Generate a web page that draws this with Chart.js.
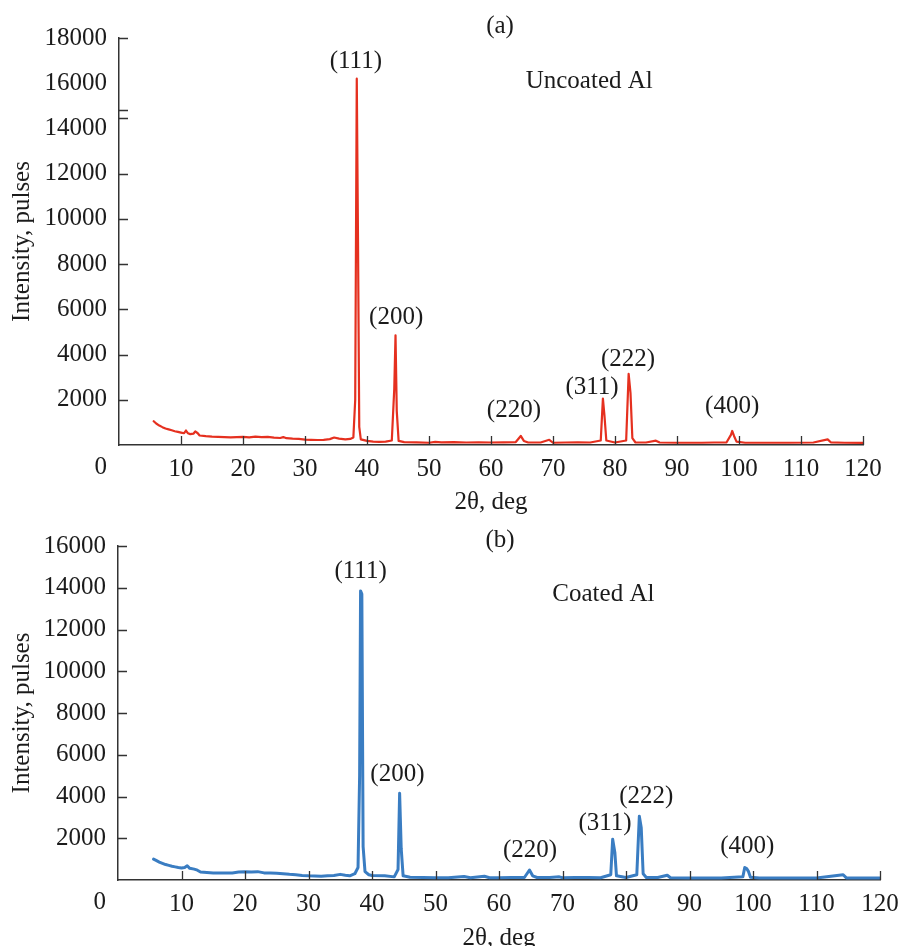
<!DOCTYPE html>
<html>
<head>
<meta charset="utf-8">
<script src="https://cdn.jsdelivr.net/npm/chart.js@4.4.1/dist/chart.umd.min.js"></script>
<style>
  body { margin: 0; background: #fff; }
  #wrap { position: relative; width: 902px; height: 946px; }
  canvas { position: absolute; left: 0; }
  #chartA { top: 0; }
  #chartB { top: 515px; }
</style>
</head>
<body>
<div id="wrap">
  <canvas id="chartA" width="902" height="515"></canvas>
  <canvas id="chartB" width="902" height="431"></canvas>
</div>
<script>
// (a) uncoated Al : 2theta, deg / intensity, pulses
const thetaA = [5.6, 6, 6.5, 7, 7.5, 8, 8.5, 9, 9.5, 10, 10.5, 10.8, 11.1, 11.5, 12, 12.3, 12.7, 13, 14, 15,
  16, 17, 18, 19, 20, 21, 22, 23, 24, 25, 26, 26.5, 27, 28, 29, 30, 31, 32, 33, 34,
  34.7, 35.5, 36.5, 37.3, 37.8, 38.1, 38.35, 38.55, 38.75, 39, 40, 41, 42, 43, 44, 44.4, 44.6, 44.8, 45.1, 46,
  48, 50, 51, 52, 54, 56, 58, 60, 62, 64, 64.8, 65.3, 66, 68, 69.4, 70, 72, 74, 76, 77.7,
  78.05, 78.3, 78.6, 80, 81.8, 82.2, 82.5, 82.8, 83.3, 85, 86.6, 87.2, 90, 92, 94, 96, 98, 98.7, 98.9, 99.2,
  99.6, 101, 104, 108, 112, 114.3, 114.8, 117, 120];
const intensityA = [1050, 950, 860, 790, 730, 690, 650, 610, 580, 550, 520, 640, 520, 480, 500, 600, 520, 420, 390, 370,
  360, 350, 340, 350, 360, 340, 370, 350, 360, 330, 310, 350, 300, 280, 270, 240, 230, 220, 230, 260,
  330, 280, 250, 270, 330, 2000, 16200, 9000, 800, 250, 180, 150, 140, 150, 200, 2500, 4850, 1500, 180, 130,
  120, 100, 140, 120, 130, 110, 120, 110, 120, 130, 400, 180, 110, 110, 230, 100, 110, 120, 110, 200,
  2050, 1300, 200, 110, 200, 3150, 2300, 300, 110, 110, 190, 110, 100, 100, 100, 110, 120, 450, 620, 400,
  150, 100, 100, 100, 110, 250, 120, 100, 90];

// (b) coated Al
const thetaB = [5.6, 6, 6.5, 7, 7.5, 8, 8.5, 9, 9.5, 10, 10.5, 10.9, 11.3, 12, 12.5, 13, 14, 15, 16, 17,
  18, 19, 20, 21, 22, 23, 24, 25, 26, 27, 28, 29, 30, 31, 32, 33, 34, 35, 35.8, 36.5,
  37.3, 37.8, 38.05, 38.2, 38.4, 38.6, 38.9, 39.5, 40, 42, 43.5, 44.1, 44.35, 44.6, 44.9, 46, 48, 50, 52, 54.5,
  55.5, 57.7, 58.5, 60, 62, 64, 64.8, 65.3, 66, 68, 69.5, 70, 72, 74, 76, 77.6, 77.9, 78.25, 78.5, 80,
  81.7, 82.1, 82.4, 82.7, 83.2, 85, 86.5, 87, 90, 95, 98.4, 98.7, 99, 99.3, 99.6, 101, 105, 110, 114.2, 114.7,
  117, 120];
const intensityB = [1000, 940, 860, 800, 740, 700, 660, 630, 600, 580, 600, 680, 560, 520, 470, 380, 360, 340, 330, 330,
  340, 380, 400, 380, 400, 340, 330, 320, 300, 270, 250, 220, 200, 190, 180, 200, 220, 270, 230, 200,
  300, 600, 5000, 13850, 13700, 1600, 400, 250, 220, 200, 150, 500, 4150, 1500, 200, 130, 120, 110, 110, 170,
  110, 180, 110, 110, 120, 120, 480, 200, 120, 120, 150, 110, 120, 120, 110, 250, 1950, 1300, 200, 120,
  250, 3050, 2500, 300, 120, 120, 230, 110, 100, 100, 150, 600, 550, 400, 130, 100, 100, 100, 250, 100,
  100, 100];

const xTicks = [10, 20, 30, 40, 50, 60, 70, 80, 90, 100, 110, 120];
const yTickMarksA = [18000, 14800, 14450, 12000, 10000, 8000, 6000, 4000, 2000];
const yTickMarksB = [16000, 14000, 12000, 10000, 8000, 6000, 4000, 2000];

const peakNames = ['(111)', '(200)', '(220)', '(311)', '(222)', '(400)'];
const labelThetaA = [38.2, 44.7, 63.7, 76.3, 82.1, 98.9];
const labelIntA = [16985, 5630, 1550, 2530, 3770, 1685];
const labelThetaB = [38.2, 44.0, 64.9, 76.7, 83.2, 99.1];
const labelIntB = [14800, 5050, 1400, 2700, 4000, 1590];

const FONT = '"Liberation Serif", "Times New Roman", serif';
const INK = '#1b1b1b';

const decor = {
  id: 'decor',
  afterDraw(chart, args, o) {
    const ctx = chart.ctx;
    const xs = chart.scales.x, ys = chart.scales.y;
    const area = chart.chartArea;
    ctx.save();
    // inward tick marks
    ctx.strokeStyle = '#333';
    ctx.lineWidth = 1.3;
    ctx.beginPath();
    o.xTicks.forEach(v => {
      const px = Math.round(xs.getPixelForValue(v)) + 0.5;
      ctx.moveTo(px, area.bottom);
      ctx.lineTo(px, area.bottom - 9);
    });
    o.yTicks.forEach(v => {
      const py = Math.round(ys.getPixelForValue(v)) + 0.5;
      ctx.moveTo(area.left, py);
      ctx.lineTo(area.left + 9, py);
    });
    ctx.stroke();

    ctx.fillStyle = INK;
    ctx.font = '25px ' + FONT;
    ctx.textBaseline = 'middle';
    // origin "0"
    ctx.textAlign = 'right';
    ctx.fillText('0', area.left - 12, area.bottom + 22);
    // peak labels
    ctx.textAlign = 'center';
    o.names.forEach((t, i) => {
      ctx.fillText(t, xs.getPixelForValue(o.lx[i]), ys.getPixelForValue(o.ly[i]));
    });
    // sample name
    ctx.textAlign = 'left';
    ctx.fillText(o.sample, xs.getPixelForValue(o.sx), ys.getPixelForValue(o.sy));
    // panel letter
    ctx.textAlign = 'center';
    ctx.fillText(o.panel, 500, o.panelY);
    ctx.restore();
  }
};

function makeChart(id, theta, intensity, color, lineW, yMax, yWidth, xHeight, pad, titleBottom, dec) {
  return new Chart(document.getElementById(id), {
    type: 'line',
    data: {
      datasets: [{
        data: theta.map((t, i) => ({ x: t, y: intensity[i] })),
        borderColor: color,
        borderWidth: lineW,
        borderJoinStyle: 'round',
        borderCapStyle: 'round',
        pointRadius: 0,
        tension: 0,
        fill: false
      }]
    },
    options: {
      responsive: false,
      animation: false,
      events: [],
      layout: { padding: pad },
      plugins: { legend: { display: false }, tooltip: { enabled: false }, decor: dec },
      scales: {
        x: {
          type: 'linear',
          min: 0, max: 120,
          afterFit: s => { s.height = xHeight; s.paddingRight = 0; },
          grid: { display: false, drawTicks: false },
          border: { display: true, color: '#333', width: 1.5 },
          ticks: {
            stepSize: 10, padding: 9, color: INK, maxRotation: 0,
            font: { family: FONT, size: 25 },
            callback: v => (v === 0 ? '' : v)
          },
          title: {
            display: true, text: '2\u03b8, deg', color: INK,
            font: { family: FONT, size: 25 }, padding: { top: 0, bottom: titleBottom }
          }
        },
        y: {
          min: 0, max: yMax,
          afterFit: s => { s.width = yWidth; },
          grid: { display: false, drawTicks: false },
          border: { display: true, color: '#333', width: 1.5 },
          ticks: {
            stepSize: 2000, padding: 12, color: INK,
            font: { family: FONT, size: 25 },
            callback: v => (v === 0 ? '' : v)
          },
          title: {
            display: true, text: 'Intensity, pulses', color: INK,
            font: { family: FONT, size: 25 }, padding: { top: 7, bottom: 0 }
          }
        }
      }
    },
    plugins: [decor]
  });
}

makeChart('chartA', thetaA, intensityA, '#e5301f', 2.2, 18000, 119, 70,
  { top: 38, right: 39, left: 0, bottom: 0 }, -2,
  { xTicks: xTicks, yTicks: yTickMarksA, names: peakNames, lx: labelThetaA, ly: labelIntA,
    sample: 'Uncoated Al', sx: 65.6, sy: 16100, panel: '(a)', panelY: 26 });

makeChart('chartB', thetaB, intensityB, '#3a7dc2', 3, 16000, 118, 66,
  { top: 31, right: 22, left: 0, bottom: 0 }, -7,
  { xTicks: xTicks, yTicks: yTickMarksB, names: peakNames, lx: labelThetaB, ly: labelIntB,
    sample: 'Coated Al', sx: 68.4, sy: 13700, panel: '(b)', panelY: 25 });
</script>
</body>
</html>
